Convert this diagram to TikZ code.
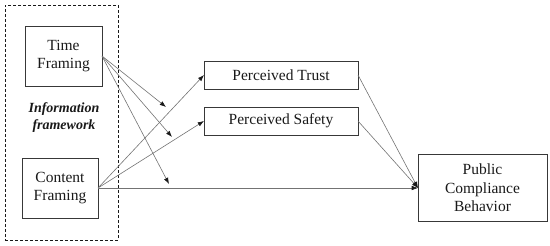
\documentclass[tikz,border=0pt]{standalone}
\usepackage{fontspec}
\setmainfont{Liberation Serif}
\usetikzlibrary{arrows.meta}
\definecolor{ModelInk}{gray}{0.10}
\definecolor{ModelFrame}{gray}{0.22}
\definecolor{ModelPath}{gray}{0.45}
\tikzset{
    model/diagram/.style={
        text=ModelInk,
        line width=0.6pt,
        every node/.style={inner sep=0pt, outer sep=0pt}
    },
    model/box/.style={
        draw=ModelFrame, line width=0.8pt, align=center,
        font=\fontsize{15.5}{18.5}\selectfont
    },
    model/group/.style={
        draw=ModelInk, line width=0.7pt, dash pattern=on 3pt off 2pt
    },
    model/label/.style={
        align=center, font=\fontsize{14}{17}\selectfont\bfseries\itshape
    },
    model/path/.style={
        draw=ModelPath, line width=0.6pt,
        -{Latex[length=2.2mm, width=1.6mm, color=ModelInk]}
    }
}

\begin{document}
\begin{tikzpicture}[model/diagram, x=1pt, y=-1pt]
    \useasboundingbox (0,0) rectangle (550,246);

    % independent variables inside the framework
    \node[model/group, minimum width=113, minimum height=235] (frame) at (61.5,122.5) {};
    \node[model/box, minimum width=77, minimum height=60] (time) at (63.5,56) {Time\\Framing};
    \node[model/box, minimum width=76, minimum height=60] (content) at (60,188) {Content\\Framing};
    \node[model/label] (info) at (64,118) {Information\\framework};

    % mediators and outcome
    \node[model/box, minimum width=154, minimum height=28] (trust) at (281,75) {Perceived Trust};
    \node[model/box, minimum width=154, minimum height=28] (safety) at (281,121) {Perceived Safety};
    \node[model/box, minimum width=129, minimum height=67] (public) at (482.5,188) {Public\\Compliance\\Behavior};

    % open ends of the time framing paths
    \coordinate (tend1) at (166,107);
    \coordinate (tend2) at (172,137);
    \coordinate (tend3) at (169,184);

    \draw[model/path] (time.east) -- (tend1);
    \draw[model/path] (time.east) -- (tend2);
    \draw[model/path] (time.east) -- (tend3);

    \draw[model/path] (content.east) -- (trust.west);
    \draw[model/path] (content.east) -- (safety.west);
    \draw[model/path] (content.east) -- (public.west);

    \draw[model/path] (trust.east) -- (public.west);
    \draw[model/path] (safety.east) -- (public.west);
\end{tikzpicture}
\end{document}
